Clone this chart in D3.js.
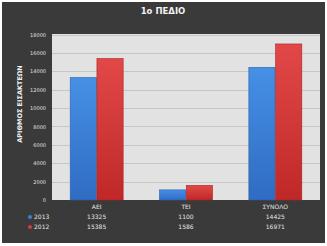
<!DOCTYPE html>
<html>
<head>
<meta charset="utf-8">
<script src="https://cdn.jsdelivr.net/npm/d3@7"></script>
<style>
  body { margin: 0; background: #fff; }
  text { font-family: "DejaVu Sans", sans-serif; }
</style>
</head>
<body>
<div id="chart"></div>
<script>
  const categories = ["ΑΕΙ", "ΤΕΙ", "ΣΥΝΟΛΟ"];
  const years = ["2013", "2012"];
  const values2013 = [13325, 1100, 14425];
  const values2012 = [15385, 1586, 16971];
  const yTicks = [0, 2000, 4000, 6000, 8000, 10000, 12000, 14000, 16000, 18000];
  const colors = ["#3a7fd8", "#d83a3a"];

  const width = 327,
    height = 246;
  const plot = { left: 52, right: 320, top: 34, bottom: 200 };

  const svg = d3
    .select("#chart")
    .append("svg")
    .attr("width", width)
    .attr("height", height);

  // gradients for the bars
  const defs = svg.append("defs");
  const grads = [
    ["g2013", "#4690e6", "#2f6cc2"],
    ["g2012", "#e24848", "#c02828"],
  ];
  grads.forEach((g) => {
    const lg = defs
      .append("linearGradient")
      .attr("id", g[0])
      .attr("x1", 0)
      .attr("y1", 0)
      .attr("x2", 0)
      .attr("y2", 1);
    lg.append("stop").attr("offset", "0%").attr("stop-color", g[1]);
    lg.append("stop").attr("offset", "100%").attr("stop-color", g[2]);
  });

  // dark background
  svg
    .append("rect")
    .attr("x", 2)
    .attr("y", 2)
    .attr("width", 323)
    .attr("height", 241)
    .attr("fill", "#3a3a3a");

  // title
  svg
    .append("text")
    .attr("x", 163)
    .attr("y", 14)
    .attr("text-anchor", "middle")
    .attr("font-size", "8.5px")
    .attr("font-weight", "bold")
    .attr("fill", "#f2f2f2")
    .text("1ο ΠΕΔΙΟ");

  // plot area
  svg
    .append("rect")
    .attr("x", plot.left)
    .attr("y", plot.top)
    .attr("width", plot.right - plot.left)
    .attr("height", plot.bottom - plot.top)
    .attr("fill", "#e2e2e2");

  const x = d3
    .scaleBand()
    .domain(categories)
    .range([plot.left, plot.right])
    .paddingInner(0)
    .paddingOuter(0);

  const xSub = d3
    .scaleBand()
    .domain(years)
    .range([0, x.bandwidth()])
    .paddingInner(0.02)
    .paddingOuter(0.68);

  const y = d3.scaleLinear().domain([0, 18000]).range([plot.bottom, plot.top + 0.5]);

  // gridlines
  svg
    .append("g")
    .selectAll("line")
    .data(yTicks.slice(1))
    .join("line")
    .attr("x1", plot.left)
    .attr("x2", plot.right)
    .attr("y1", (d) => Math.round(y(d)) + 0.5)
    .attr("y2", (d) => Math.round(y(d)) + 0.5)
    .attr("stroke", "#c6c6c6")
    .attr("stroke-width", 1);

  // y axis labels
  const yAxis = d3
    .axisLeft(y)
    .tickValues(yTicks)
    .tickFormat(d3.format("d"))
    .tickSize(0)
    .tickPadding(6);
  const gy = svg
    .append("g")
    .attr("transform", `translate(${plot.left},0)`)
    .call(yAxis);
  gy.select(".domain").remove();
  gy.selectAll("text")
    .attr("fill", "#e0e0e0")
    .attr("font-size", "5px")
    .attr("font-family", "DejaVu Sans, sans-serif");

  // y axis title
  svg
    .append("text")
    .attr("transform", "translate(22,104) rotate(-90)")
    .attr("text-anchor", "middle")
    .attr("font-size", "6.5px")
    .attr("font-weight", "bold")
    .attr("fill", "#f0f0f0")
    .text("ΑΡΙΘΜΟΣ ΕΙΣΑΚΤΕΩΝ");

  // bars
  const series = [values2013, values2012];
  const groups = svg
    .append("g")
    .selectAll("g")
    .data(categories)
    .join("g")
    .attr("transform", (d) => `translate(${x(d)},0)`);

  groups
    .selectAll("rect")
    .data((d, i) => years.map((yr, k) => ({ yr: yr, k: k, v: series[k][i] })))
    .join("rect")
    .attr("x", (d) => xSub(d.yr))
    .attr("y", (d) => y(d.v))
    .attr("width", xSub.bandwidth())
    .attr("height", (d) => plot.bottom - y(d.v))
    .attr("fill", (d) => `url(#${grads[d.k][0]})`)
    .attr("stroke", (d) => (d.k === 0 ? "#2a5fae" : "#a82222"))
    .attr("stroke-width", 0.6);

  // data table below the plot
  const tableColor = "#e6e6e6";
  svg
    .append("g")
    .selectAll("text")
    .data(categories)
    .join("text")
    .attr("x", (d) => x(d) + x.bandwidth() / 2)
    .attr("y", 209)
    .attr("text-anchor", "middle")
    .attr("font-size", "6px")
    .attr("fill", tableColor)
    .text((d) => d);

  const rowY = [219, 229];
  years.forEach((yr, k) => {
    svg
      .append("circle")
      .attr("cx", 30)
      .attr("cy", rowY[k] - 2)
      .attr("r", 2)
      .attr("fill", colors[k]);
    svg
      .append("text")
      .attr("x", 34)
      .attr("y", rowY[k])
      .attr("font-size", "6px")
      .attr("fill", tableColor)
      .text(yr);
    svg
      .append("g")
      .selectAll("text")
      .data(categories)
      .join("text")
      .attr("x", (d) => x(d) + x.bandwidth() / 2)
      .attr("y", rowY[k])
      .attr("text-anchor", "middle")
      .attr("font-size", "6px")
      .attr("fill", tableColor)
      .text((d, i) => series[k][i]);
  });
</script>
</body>
</html>
